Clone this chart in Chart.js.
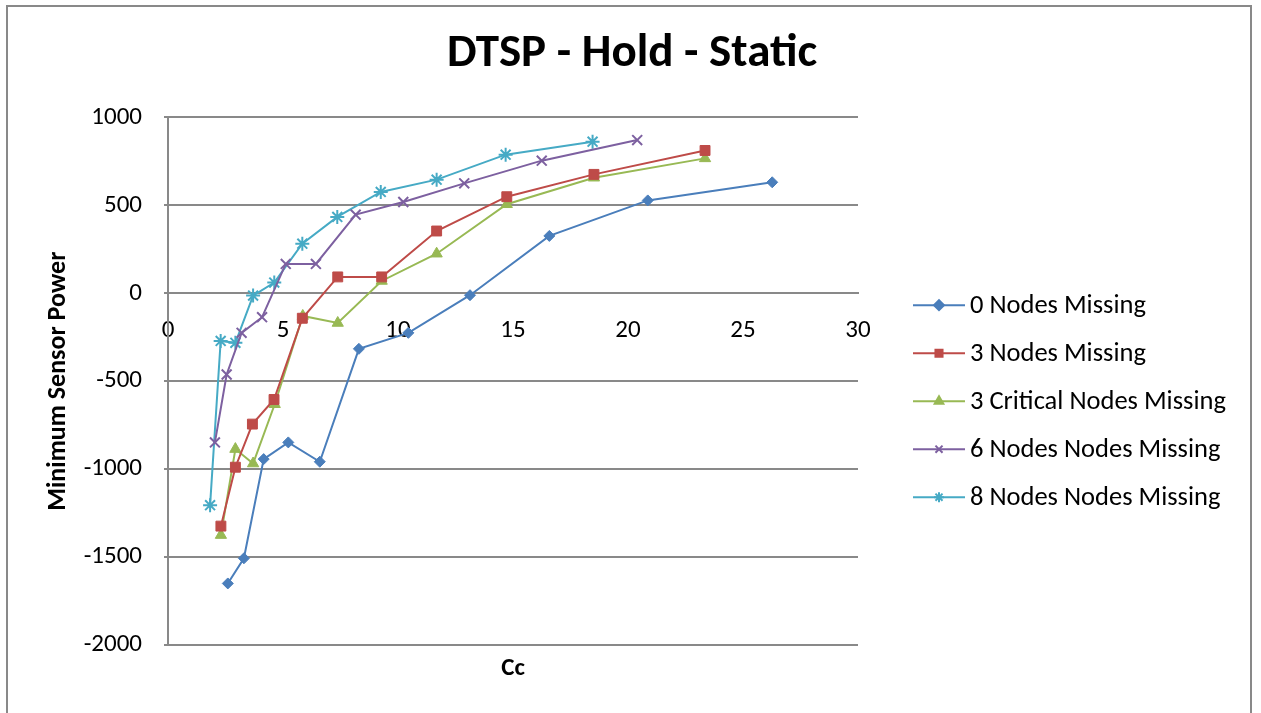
<!DOCTYPE html>
<html lang="en">
<head>
    <meta charset="UTF-8">
    <title>DTSP - Hold - Static</title>
    <script src="https://cdn.jsdelivr.net/npm/chart.js"></script>
    <style>
        html, body { margin: 0; padding: 0; background: #fff; overflow: hidden; }
        #frame {
            position: absolute; left: 6px; top: 5px; width: 1246px; height: 730px;
            border: 2px solid #898989; box-sizing: border-box;
        }
        #wrap { position: absolute; left: 0; top: 0; width: 1261px; height: 713px; }
    </style>
</head>
<body>
    <div id="frame"></div>
    <div id="wrap"><canvas id="myChart"></canvas></div>

    <script>
        // Data (x = Cc, y = minimum sensor power)
        const nodes0X = [2.6, 3.3, 4.16, 5.23, 6.6, 8.3, 10.45, 13.13, 16.58, 20.86, 26.27];
        const nodes0Y = [-1650, -1507, -943, -848, -958, -316, -225, -11, 326, 528, 631];

        const nodes3X = [2.3, 2.93, 3.67, 4.61, 5.84, 7.38, 9.29, 11.68, 14.73, 18.52, 23.35];
        const nodes3Y = [-1324, -989, -744, -604, -142, 93, 93, 354, 549, 676, 812];

        const critical3X = [2.3, 2.93, 3.7, 4.64, 5.86, 7.38, 9.29, 11.68, 14.73, 18.52, 23.35];
        const critical3Y = [-1375, -886, -968, -631, -129, -169, 70, 225, 506, 657, 767];

        const nodes6X = [2.04, 2.55, 3.2, 4.09, 5.12, 6.43, 8.16, 10.23, 12.88, 16.25, 20.4];
        const nodes6Y = [-848, -462, -225, -136, 167, 167, 447, 519, 625, 754, 871];

        const nodes8X = [1.83, 2.29, 2.93, 3.7, 4.62, 5.84, 7.36, 9.25, 11.68, 14.68, 18.46];
        const nodes8Y = [-1205, -271, -282, -13, 61, 282, 434, 576, 646, 788, 862];

        const seriesNames = ["0 Nodes Missing", "3 Nodes Missing", "3 Critical Nodes Missing",
                             "6 Nodes Nodes Missing", "8 Nodes Nodes Missing"];
        const seriesColors = ["#4A7EBB", "#BE4B48", "#98B954", "#7D60A0", "#46AAC5"];
        const seriesMarkers = ["rectRot", "rect", "triangle", "crossRot", "star"];
        const markerSizes = [5.5, 7, 6.5, 7, 7];

        const xTicks = [0, 5, 10, 15, 20, 25, 30];
        const yTicks = [-2000, -1500, -1000, -500, 0, 500, 1000];

        const FONT = "Carlito, Calibri, Lato, sans-serif";

        function toPoints(xs, ys) {
            return xs.map((x, i) => ({ x: x, y: ys[i] }));
        }

        const allX = [nodes0X, nodes3X, critical3X, nodes6X, nodes8X];
        const allY = [nodes0Y, nodes3Y, critical3Y, nodes6Y, nodes8Y];

        const datasets = seriesNames.map((name, i) => ({
            label: name,
            data: toPoints(allX[i], allY[i]),
            borderColor: seriesColors[i],
            backgroundColor: seriesColors[i],
            borderWidth: 2,
            pointStyle: seriesMarkers[i],
            pointRadius: markerSizes[i],
            pointBorderWidth: seriesMarkers[i] === "crossRot" || seriesMarkers[i] === "star" ? 2 : 1,
            pointBorderColor: seriesColors[i],
            pointBackgroundColor: seriesColors[i],
            showLine: true,
            fill: false,
            tension: 0
        }));

        // Legend on the right: line + marker, then the name (Excel style)
        const sideLegend = {
            id: "sideLegend",
            afterDraw(chart) {
                const a = chart.chartArea;
                const ctx = chart.ctx;
                const midY = (a.top + a.bottom) / 2 + 20;
                ctx.save();
                chart.data.datasets.forEach((ds, i) => {
                    const y = midY + (i - 2) * 48;
                    const x0 = a.right + 55;
                    ctx.strokeStyle = ds.borderColor;
                    ctx.fillStyle = ds.borderColor;
                    ctx.lineWidth = 2;
                    ctx.beginPath(); ctx.moveTo(x0, y); ctx.lineTo(x0 + 52, y); ctx.stroke();
                    Chart.helpers.drawPoint(ctx, { pointStyle: ds.pointStyle, radius: 5, borderWidth: 2 }, x0 + 26, y);
                    ctx.fill();
                    ctx.fillStyle = "#000";
                    ctx.font = "26.5px " + FONT;
                    ctx.textAlign = "left";
                    ctx.textBaseline = "middle";
                    ctx.fillText(ds.label, x0 + 57, y + 1);
                });
                ctx.restore();
            }
        };

        // "Cc" under the plot area
        const xTitlePlugin = {
            id: "xTitle",
            afterDraw(chart) {
                const a = chart.chartArea;
                const ctx = chart.ctx;
                ctx.save();
                ctx.font = "bold 25px " + FONT;
                ctx.fillStyle = "#000";
                ctx.textAlign = "center";
                ctx.textBaseline = "middle";
                ctx.fillText("Cc", (a.left + a.right) / 2, a.bottom + 24);
                ctx.restore();
            }
        };

        function drawChart() {
            new Chart(document.getElementById("myChart"), {
                type: "scatter",
                data: { datasets: datasets },
                plugins: [xTitlePlugin, sideLegend],
                options: {
                    responsive: true,
                    maintainAspectRatio: false,
                    animation: false,
                    layout: { padding: { left: 3, right: 0, top: 0, bottom: 68 } },
                    scales: {
                        x: {
                            type: "linear",
                            position: { y: 0 },
                            min: 0, max: 30,
                            afterBuildTicks: s => { s.ticks = xTicks.map(v => ({ value: v })); },
                            grid: { display: false },
                            border: { display: true, color: "#898989", width: 2 },
                            ticks: { color: "#000", font: { family: FONT, size: 25 }, padding: 14,
                                     callback: v => String(v) }
                        },
                        y: {
                            type: "linear",
                            position: "left",
                            min: -2000, max: 1000,
                            afterBuildTicks: s => { s.ticks = yTicks.map(v => ({ value: v })); },
                            afterFit: s => { s.width = 165; },
                            grid: { color: "#898989", lineWidth: 2, tickLength: 4, drawTicks: true },
                            border: { display: true, color: "#898989", width: 2 },
                            ticks: { color: "#000", font: { family: FONT, size: 25 }, padding: 22,
                                     callback: v => String(v) },
                            title: {
                                display: true,
                                text: "Minimum Sensor Power",
                                color: "#000",
                                font: { family: FONT, size: 26, weight: "bold" },
                                padding: { top: 40, bottom: 0 }
                            }
                        },
                        // empty box on the right that keeps room for the legend
                        legendRoom: {
                            type: "linear",
                            position: "right",
                            afterFit: s => { s.width = 403; },
                            grid: { display: false },
                            border: { display: false },
                            ticks: { display: false }
                        }
                    },
                    plugins: {
                        title: {
                            display: true,
                            text: "DTSP - Hold - Static",
                            color: "#000",
                            font: { family: FONT, size: 47, weight: "bold" },
                            padding: { top: 26, bottom: 35 }
                        },
                        legend: { display: false },
                        tooltip: { enabled: false }
                    }
                }
            });
        }

        // make sure the font is ready before the chart measures its text
        Promise.all([
            document.fonts.load("25px Carlito"),
            document.fonts.load("bold 25px Carlito")
        ]).then(drawChart, drawChart);
    </script>
</body>
</html>
